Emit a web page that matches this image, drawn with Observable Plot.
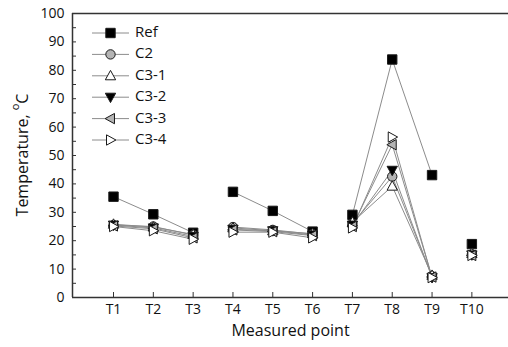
<!DOCTYPE html>
<html><head><meta charset="utf-8">
<script src="https://cdn.jsdelivr.net/npm/d3@7"></script>
<script src="https://cdn.jsdelivr.net/npm/@observablehq/plot@0.6"></script>
<style>body{margin:0;background:#fff} svg{display:block}</style>
</head><body><div id="chart"></div>
<script>
const points = ["T1","T2","T3","T4","T5","T6","T7","T8","T9","T10"];
const segment = [1,1,1,2,2,2,3,3,3,4];
const seriesNames = ["Ref","C2","C3-1","C3-2","C3-3","C3-4"];
const ref = [35.5, 29.3, 22.8, 37.2, 30.5, 23.2, 29.1, 83.8, 43.1, 18.8];
const c2  = [25.5, 25.0, 22.0, 24.8, 23.8, 22.3, 26.0, 42.6, 7.5, 15.2];
const c31 = [25.8, 24.8, 22.2, 24.5, 23.5, 22.5, 26.5, 39.2, 7.8, 15.5];
const c32 = [25.5, 24.5, 21.5, 24.0, 23.5, 22.0, 25.5, 44.8, 7.0, 15.0];
const c33 = [25.2, 24.2, 21.0, 23.8, 23.2, 21.8, 25.0, 53.8, 7.2, 14.8];
const c34 = [25.0, 23.5, 20.5, 23.0, 23.0, 21.0, 24.5, 56.5, 7.0, 14.8];
const yTicks = d3.range(0, 101, 10);
const yMinorTicks = d3.range(0, 101, 5);
const xTicks = d3.range(1, 11);

function poly(pts) {
  return {draw(ctx, size) {
    const r = Math.sqrt(size / Math.PI);
    ctx.moveTo(pts[0][0]*r, pts[0][1]*r);
    for (let k = 1; k < pts.length; k++) ctx.lineTo(pts[k][0]*r, pts[k][1]*r);
    ctx.closePath();
  }};
}
const symSquare = poly([[-1,-1],[1,-1],[1,1],[-1,1]]);
const symCircle = {draw(ctx, size) { const r = Math.sqrt(size/Math.PI); ctx.moveTo(r,0); ctx.arc(0,0,r,0,2*Math.PI); ctx.closePath(); }};
const symUp = poly([[0,-1.15],[1.1,0.85],[-1.1,0.85]]);
const symDown = poly([[0,1.15],[1.1,-0.85],[-1.1,-0.85]]);
const symLeft = poly([[-1.15,0],[0.85,-1.1],[0.85,1.1]]);
const symRight = poly([[1.15,0],[-0.85,-1.1],[-0.85,1.1]]);

const seriesValues = [ref, c2, c31, c32, c33, c34];
const seriesSymbols = [symSquare, symCircle, symUp, symDown, symLeft, symRight];
const seriesFills = ["#000", "#b4b4b4", "#fff", "#000", "#b4b4b4", "#fff"];

const rows = [];
seriesNames.forEach((s, j) => seriesValues[j].forEach((v, i) =>
  rows.push({series: s, x: i + 1, y: v, seg: segment[i]})));

const font = "Open Sans, sans-serif";
const axisColor = "#333";
const markerR = 4.7;

const marks = [
  Plot.line(rows, {x: "x", y: "y", z: d => d.series + "-" + d.seg, stroke: "#8c8c8c", strokeWidth: 1}),
  ...seriesNames.map((s, j) => Plot.dot(rows.filter(d => d.series === s), {
    x: "x", y: "y", symbol: seriesSymbols[j], r: markerR, fill: seriesFills[j], stroke: "#1a1a1a", strokeWidth: 1
  })),
  Plot.ruleY([100], {stroke: axisColor, strokeWidth: 1.5}),
  Plot.ruleY([0], {stroke: axisColor, strokeWidth: 1.5}),
  Plot.ruleX([-0.03], {stroke: axisColor, strokeWidth: 1.5}),
  Plot.axisX({ticks: xTicks, tickFormat: d => points[d - 1], tickSize: 0, tickPadding: 7, fontSize: 14, label: null, color: "#111"}),
  Plot.axisX({ticks: xTicks, tickSize: 5, text: null, label: null, dy: -5, stroke: axisColor}),
  Plot.axisY({ticks: yTicks, tickSize: 0, tickPadding: 8, fontSize: 14, label: null, color: "#111"}),
  Plot.axisY({ticks: yMinorTicks, tickSize: 4, text: null, label: null, dx: 4, stroke: axisColor}),
  Plot.text(["Measured point"], {frameAnchor: "bottom", dy: 38, text: d => d, fontSize: 16, fill: "#111"})
];

const chart = Plot.plot({
  width: 508, height: 347,
  marginLeft: 72, marginRight: 0, marginTop: 13, marginBottom: 50,
  style: {fontFamily: font, background: "#fff", overflow: "visible"},
  x: {type: "linear", domain: [-0.03, 10.92]},
  y: {domain: [0, 100]},
  marks
});
document.getElementById("chart").append(chart);

// Y-axis title with superscript "o"
const svg = d3.select(chart);
const yt = svg.append("text")
  .attr("transform", "translate(24,155) rotate(-90)")
  .attr("text-anchor", "middle").attr("dominant-baseline", "middle")
  .attr("font-family", font).attr("font-size", 16).attr("fill", "#111");
yt.append("tspan").text("Temperature, ");
yt.append("tspan").text("o").attr("font-size", 11).attr("baseline-shift", "super");
yt.append("tspan").text("C");

// Legend
const lg = svg.append("g").attr("font-family", font).attr("font-size", 15).attr("text-anchor", "start");
seriesNames.forEach((s, j) => {
  const y = 33 + 21.4 * j;
  lg.append("line").attr("x1", 92).attr("x2", 129).attr("y1", y).attr("y2", y)
    .attr("stroke", "#8c8c8c").attr("stroke-width", 1);
  lg.append("path").attr("transform", `translate(110.5,${y})`)
    .attr("d", d3.symbol(seriesSymbols[j], Math.PI * markerR * markerR)())
    .attr("fill", seriesFills[j]).attr("stroke", "#1a1a1a").attr("stroke-width", 1);
  lg.append("text").attr("x", 135).attr("y", y).attr("dominant-baseline", "middle")
    .attr("text-anchor", "start").attr("fill", "#111").text(s);
});
</script>
</body></html>
